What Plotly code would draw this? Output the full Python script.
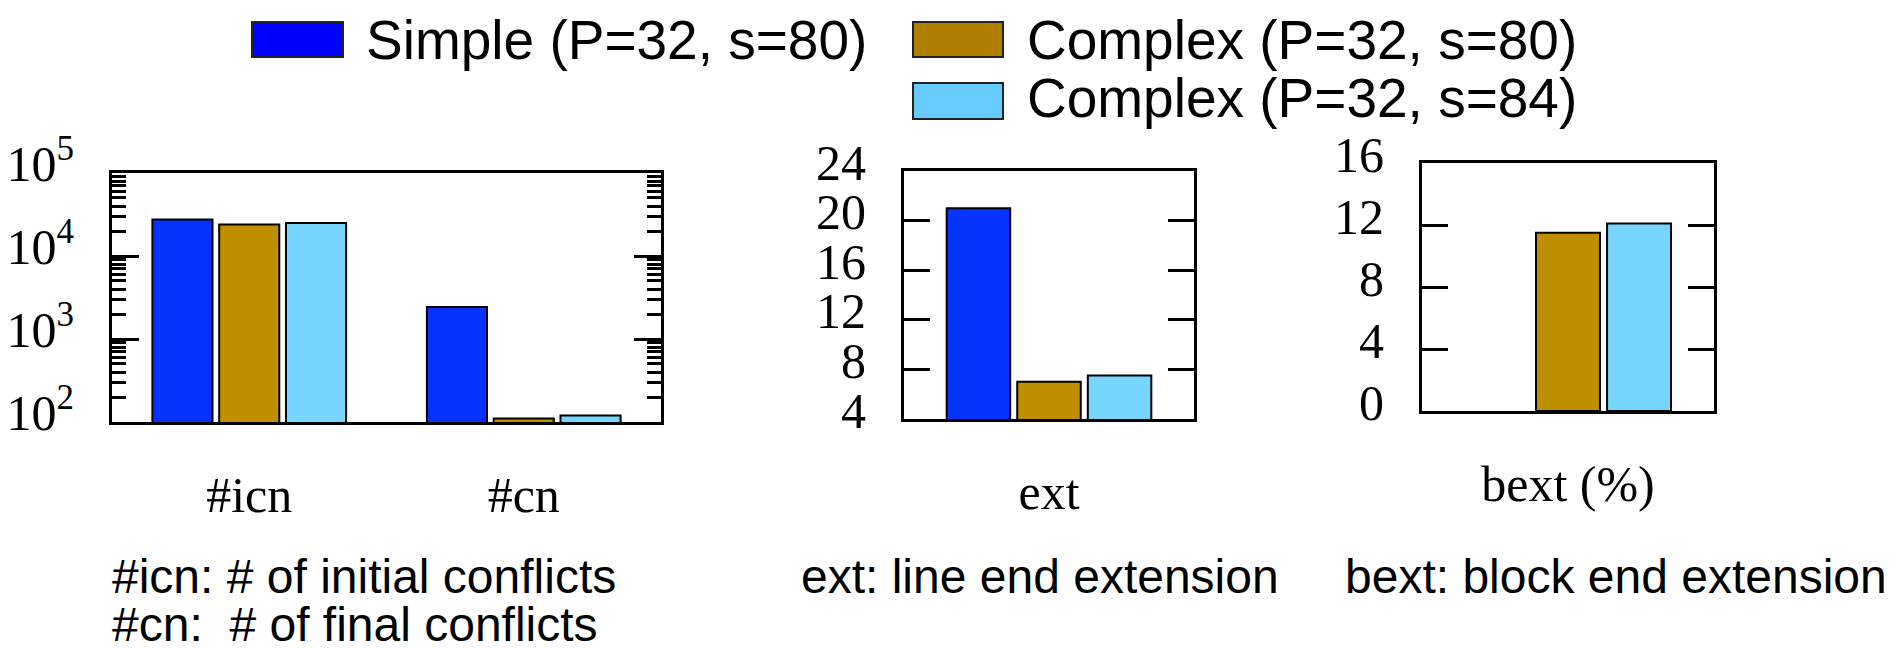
import plotly.graph_objects as go

W, H = 1903, 649
PAGE_OFFSET = 8  # browser body margin shifts the figure by this many pixels

# ---------------- data ----------------
series_names = ["Simple (P=32, s=80)", "Complex (P=32, s=80)", "Complex (P=32, s=84)"]
bar_colors = ["#0433FF", "#BF8F00", "#76D6FF"]
legend_colors = ["#0000FF", "#B07F00", "#66CCFF"]

conf_categories = ["#icn", "#cn"]
conf_simple80 = [27500, 2430]
conf_complex80 = [24000, 110]
conf_complex84 = [25000, 120]

ext_categories = ["ext"]
ext_simple80 = [21.0]
ext_complex80 = [7.0]
ext_complex84 = [7.5]

bext_categories = ["bext (%)"]
bext_simple80 = [None]
bext_complex80 = [11.5]
bext_complex84 = [12.1]

log_tickvals = [100, 1000, 10000, 100000]
log_ticktext = ["10<sup>2</sup>", "10<sup>3</sup>", "10<sup>4</sup>", "10<sup>5</sup>"]
ext_ticks = [4, 8, 12, 16, 20, 24]
bext_ticks = [0, 4, 8, 12, 16]

notes = [
    ("#icn: # of initial conflicts", 110, 576),
    ("#cn:  # of final conflicts", 110, 624),
    ("ext: line end extension", 799, 576),
    ("bext: block end extension", 1343, 576),
]

# ---------------- helpers ----------------
def px(x):
    return (x - PAGE_OFFSET) / W

def py(y):
    return 1 - (y - PAGE_OFFSET) / H

SERIF = "Liberation Serif, Times New Roman, serif"
SANS = "Liberation Sans, Arial, Helvetica, sans-serif"

fig = go.Figure()

panels = [
    ("x", "y", conf_categories, [conf_simple80, conf_complex80, conf_complex84]),
    ("x2", "y2", ext_categories, [ext_simple80, ext_complex80, ext_complex84]),
    ("x3", "y3", bext_categories, [bext_simple80, bext_complex80, bext_complex84]),
]
for xa, ya, cats, vals in panels:
    for name, color, v in zip(series_names, bar_colors, vals):
        fig.add_trace(go.Bar(
            x=cats, y=v, name=name, xaxis=xa, yaxis=ya,
            marker=dict(color=color, line=dict(color="black", width=2)),
            showlegend=False,
        ))

axis_common = dict(showline=True, linecolor="black", linewidth=3, mirror=True,
                   showgrid=False, zeroline=False, automargin=False)

xlab = dict(tickfont=dict(family=SERIF, size=50, color="black"), ticks="",
            ticklabelstandoff=27)
ylab = dict(tickfont=dict(family=SERIF, size=50, color="black"), ticks="inside",
            tickcolor="black", tickwidth=3, ticklen=26, ticklabelstandoff=25,
            ticklabelshift=-9)

minor_vals = [m * 10 ** e for e in (2, 3, 4) for m in range(2, 10)]

fig.update_layout(
    template="none",
    width=W, height=H,
    margin=dict(l=0, r=0, t=0, b=0, pad=0, autoexpand=False),
    paper_bgcolor="white", plot_bgcolor="white",
    showlegend=False,
    barmode="group", bargap=0.27, bargroupgap=0.1,
    xaxis=dict(domain=[px(112), px(661)], anchor="y", **axis_common, **xlab),
    yaxis=dict(domain=[py(422), py(173)], anchor="x", type="log", range=[2, 5],
               tickmode="array", tickvals=log_tickvals, ticktext=log_ticktext,
               minor=dict(tickmode="array", tickvals=minor_vals, ticks="inside",
                          ticklen=14, tickwidth=2.5, tickcolor="black", showgrid=False),
               **axis_common, **{**ylab, "ticklen": 27, "ticklabelshift": -10}),
    xaxis2=dict(domain=[px(904), px(1194)], anchor="y2", **axis_common, **xlab),
    yaxis2=dict(domain=[py(419), py(171)], anchor="x2", range=[4, 24],
                tickmode="array", tickvals=ext_ticks, **axis_common, **ylab),
    xaxis3=dict(domain=[px(1422), px(1714)], anchor="y3", **axis_common, **xlab),
    yaxis3=dict(domain=[py(411), py(163)], anchor="x3", range=[0, 16],
                tickmode="array", tickvals=bext_ticks, **axis_common, **ylab),
)
fig.update_yaxes(mirror="ticks")

# ---------------- manual legend ----------------
legend_boxes = [(252, 22, 343, 57), (913, 22, 1003, 57), (913, 83, 1003, 119)]
legend_text_pos = [(364, 40), (1025, 40), (1025, 98)]
for (x0, y0, x1, y1), (tx, ty), name, col in zip(legend_boxes, legend_text_pos, series_names, legend_colors):
    fig.add_shape(type="rect", xref="paper", yref="paper",
                  x0=px(x0), x1=px(x1), y0=py(y1), y1=py(y0),
                  fillcolor=col, line=dict(color="#222222", width=2))
    fig.add_annotation(xref="paper", yref="paper", x=px(tx), y=py(ty),
                       text=name, showarrow=False, xanchor="left", yanchor="middle",
                       font=dict(family=SANS, size=55, color="black"))

for text, x, y in notes:
    fig.add_annotation(xref="paper", yref="paper", x=px(x), y=py(y), text=text,
                       showarrow=False, xanchor="left", yanchor="middle",
                       font=dict(family=SANS, size=48, color="black"))

fig.write_html("out.html")
